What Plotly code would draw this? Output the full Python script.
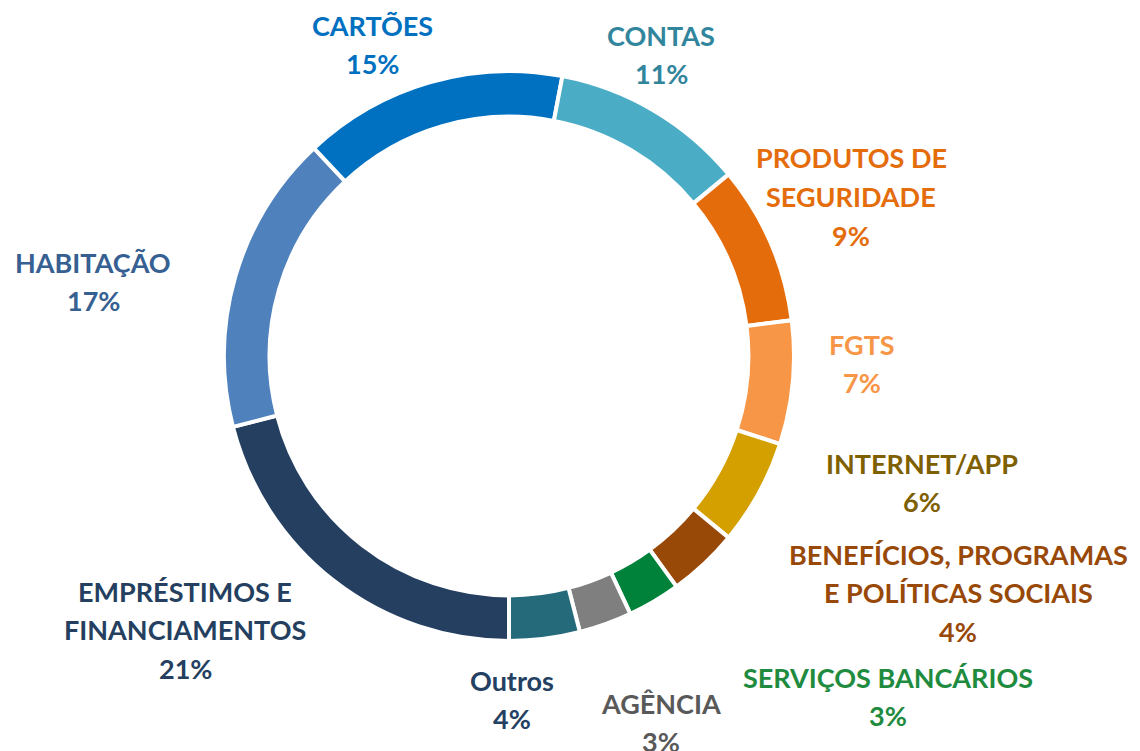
import plotly.graph_objects as go

# Data (clockwise starting at 6 o'clock)
categories = ["EMPRÉSTIMOS E FINANCIAMENTOS", "HABITAÇÃO", "CARTÕES", "CONTAS",
              "PRODUTOS DE SEGURIDADE", "FGTS", "INTERNET/APP",
              "BENEFÍCIOS, PROGRAMAS E POLÍTICAS SOCIAIS", "SERVIÇOS BANCÁRIOS",
              "AGÊNCIA", "Outros"]
values = [21, 17, 15, 11, 9, 7, 6, 4, 3, 3, 4]
label_lines = [["EMPRÉSTIMOS E", "FINANCIAMENTOS"], ["HABITAÇÃO"], ["CARTÕES"], ["CONTAS"],
               ["PRODUTOS DE", "SEGURIDADE"], ["FGTS"], ["INTERNET/APP"],
               ["BENEFÍCIOS, PROGRAMAS", "E POLÍTICAS SOCIAIS"], ["SERVIÇOS BANCÁRIOS"],
               ["AGÊNCIA"], ["Outros"]]

slice_colors = ["#243F60", "#4F81BD", "#0070C0", "#4BACC6", "#E46C0A", "#F79646",
                "#D4A000", "#984807", "#00823B", "#7F7F7F", "#246A7A"]
text_colors = ["#243F60", "#376092", "#0070C0", "#31859C", "#E46C0A", "#F79646",
               "#7F6000", "#984807", "#1E8B3E", "#595959", "#244062"]

# page offset (html body margin)
OFF = 8
# label layout (pixel centers of first line)
label_pos = [(185, 591), (93, 262), (372, 25), (661, 35), (851, 158), (862, 344),
             (922, 463), (958, 554), (888, 677), (661, 703), (512, 680)]
line_pitch = 38.5

W, H = 1140, 751
cx, cy, R = 509 - OFF, 356 - OFF, 285

fig = go.Figure()
fig.add_trace(go.Pie(
    labels=categories, values=values, sort=False, direction="clockwise",
    rotation=180, hole=0.84,
    marker=dict(colors=slice_colors, line=dict(color="white", width=4)),
    textinfo="none", hoverinfo="label+percent", showlegend=False,
    domain=dict(x=[(cx - R) / W, (cx + R) / W], y=[1 - (cy + R) / H, 1 - (cy - R) / H]),
))

annotations = []
for lines, v, col, (px, py) in zip(label_lines, values, text_colors, label_pos):
    all_lines = lines + [f"{v}%"]
    for i, t in enumerate(all_lines):
        annotations.append(dict(
            x=(px - OFF) / W, y=1 - (py - OFF + i * line_pitch) / H,
            xref="paper", yref="paper",
            text=f"<b>{t}</b>", showarrow=False, xanchor="center", yanchor="middle",
            font=dict(family="Lato", size=27, color=col),
        ))

fig.update_layout(
    width=W, height=H, margin=dict(l=0, r=0, t=0, b=0),
    paper_bgcolor="white", plot_bgcolor="white",
    annotations=annotations,
)

fig.write_html("out.html")
